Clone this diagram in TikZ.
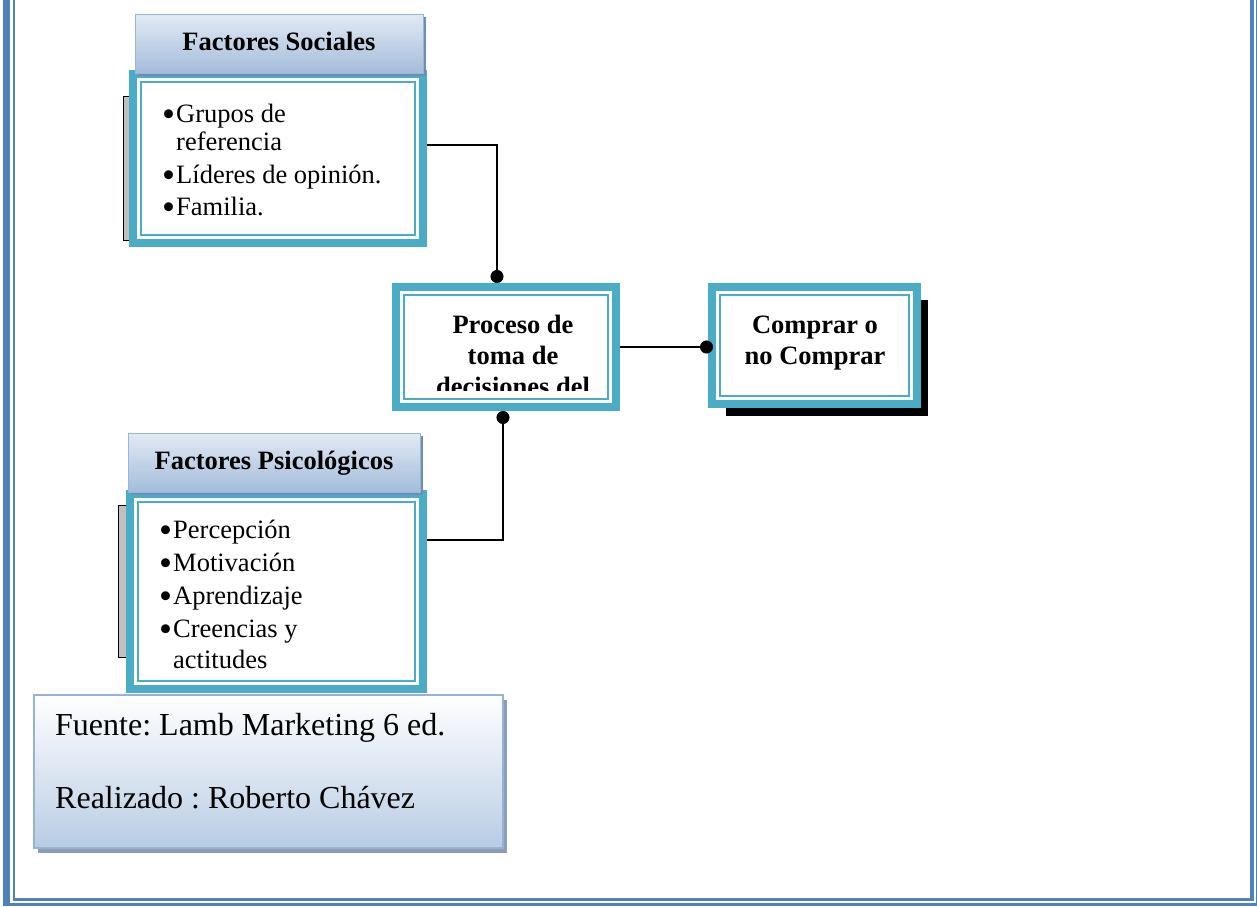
\documentclass[tikz,border=0pt]{standalone}
\usepackage{fontspec}
\setmainfont{Liberation Serif}
\usetikzlibrary{arrows.meta,shadows}
\frenchspacing

\definecolor{frameblue}{HTML}{4F81BD}
\definecolor{boxteal}{HTML}{4BACC6}
\definecolor{hdrtop}{HTML}{E2EAF4}
\definecolor{hdrbot}{HTML}{A3BCDA}
\definecolor{hdredge}{HTML}{9BB5D6}
\definecolor{hdrshadow}{HTML}{6F8DB3}
\definecolor{notebot}{HTML}{B8CCE4}
\definecolor{noteedge}{HTML}{95B3D7}
\definecolor{noteshadow}{HTML}{8C9DB5}
\definecolor{tabgray}{HTML}{C0C0C0}

% list bullet, a little larger than the text's own
\newcommand\itemdot{\makebox[14pt][l]{\smash{\raisebox{-4.5pt}{\scalebox{1.4}{•}}}}}

\begin{document}
\begin{tikzpicture}[x=1pt,y=-1pt,
  tealbox/.style={fill=boxteal, inner sep=0pt, outer sep=0pt,
    path picture={
      \fill[white] ([shift={(8pt,8pt)}]path picture bounding box.south west)
        rectangle ([shift={(-8pt,-8pt)}]path picture bounding box.north east);
      \draw[boxteal,line width=2pt] ([shift={(12pt,12pt)}]path picture bounding box.south west)
        rectangle ([shift={(-12pt,-12pt)}]path picture bounding box.north east);}},
  header/.style={top color=hdrtop, bottom color=hdrbot, draw=hdredge, line width=0.8pt,
    inner sep=0pt, outer sep=0pt, font=\bfseries\fontsize{26.5}{31}\selectfont,
    text height=18pt, text depth=5pt,
    drop shadow={shadow xshift=2.5pt, shadow yshift=-3pt, fill=hdrshadow, opacity=1}},
  note/.style={top color=white, bottom color=notebot, draw=noteedge, line width=1.5pt,
    inner sep=0pt, outer sep=0pt,
    drop shadow={shadow xshift=4pt, shadow yshift=-5pt, fill=noteshadow, opacity=1}},
  body/.style={font=\fontsize{26.5}{31}\selectfont, inner sep=0pt, anchor=base west},
  boldtxt/.style={font=\bfseries\fontsize{26.5}{31}\selectfont, inner sep=0pt, anchor=base},
  notetxt/.style={font=\fontsize{32}{38}\selectfont, inner sep=0pt, anchor=base west},
  tab/.style={draw=black, line width=1pt, fill=tabgray},
  conn/.style={line width=1.5pt, -{Circle[length=13pt]}}
]
\useasboundingbox (0,0) rectangle (1257,906);

% page frame
\fill[frameblue] (3,0) rectangle (10,906);
\fill[frameblue] (12.5,0) rectangle (14.5,899);
\fill[frameblue] (12.5,897.5) rectangle (1254,901);
\fill[frameblue] (3,903) rectangle (1257,906);
\fill[frameblue] (1250,0) rectangle (1254,901);
\fill[frameblue] (1255.5,0) rectangle (1257,906);

% side tabs behind the factor boxes
\draw[tab] (123,96) rectangle (140,240);
\draw[tab] (118.5,505) rectangle (135,657);

% social factors
\node[tealbox, minimum width=298pt, minimum height=177pt] (soc) at (278,158.5) {};
\node[header, minimum width=288pt, minimum height=59pt] (hsoc) at (279,43.5) {Factores Sociales};
\node[body] (s1) at (162,122) {\itemdot Grupos de};
\node[body] (s2) at (176,150) {referencia};
\node[body] (s3) at (162,183) {\itemdot Líderes de opinión.};
\node[body] (s4) at (162,215) {\itemdot Familia.};

% decision process
\node[tealbox, minimum width=228pt, minimum height=128pt] (proc) at (506,347) {};
\begin{scope}
  \clip (405,295) rectangle (607,390);
  \node[boldtxt] (t1) at (513,333) {Proceso de};
  \node[boldtxt] (t2) at (513,364) {toma de};
  \node[boldtxt] (t3) at (513,395) {decisiones del};
\end{scope}

% outcome
\fill[black] (726,300) rectangle (928,416);
\node[tealbox, minimum width=213pt, minimum height=125pt] (comp) at (814.5,345.5) {};
\node[boldtxt] (c1) at (815,333) {Comprar o};
\node[boldtxt] (c2) at (815,364) {no Comprar};

% psychological factors
\node[tealbox, minimum width=301pt, minimum height=203pt] (psy) at (276.5,591.5) {};
\node[header, minimum width=292pt, minimum height=59pt] (hpsy) at (274,462.5) {Factores Psicológicos};
\node[body] (p1) at (159,538) {\itemdot Percepción};
\node[body] (p2) at (159,571) {\itemdot Motivación};
\node[body] (p3) at (159,604) {\itemdot Aprendizaje};
\node[body] (p4) at (159,637) {\itemdot Creencias y};
\node[body] (p5) at (173,668) {actitudes};

% source note
\node[note, minimum width=469pt, minimum height=153pt] (src) at (268.5,771.5) {};
\node[notetxt] (n1) at (55,735) {Fuente: Lamb Marketing 6 ed.};
\node[notetxt] (n2) at (55,808) {Realizado : Roberto Chávez};

% connectors
\coordinate (ja) at (497,145);
\coordinate (jb) at (503,540);
\draw[conn] (ja -| soc.east) -- (ja) -- (ja |- proc.north);
\draw[conn] (jb -| psy.east) -- (jb) -- (jb |- proc.south);
\draw[conn, shorten >=-5pt] (proc.east) -- (proc.east -| comp.west);
\end{tikzpicture}
\end{document}
